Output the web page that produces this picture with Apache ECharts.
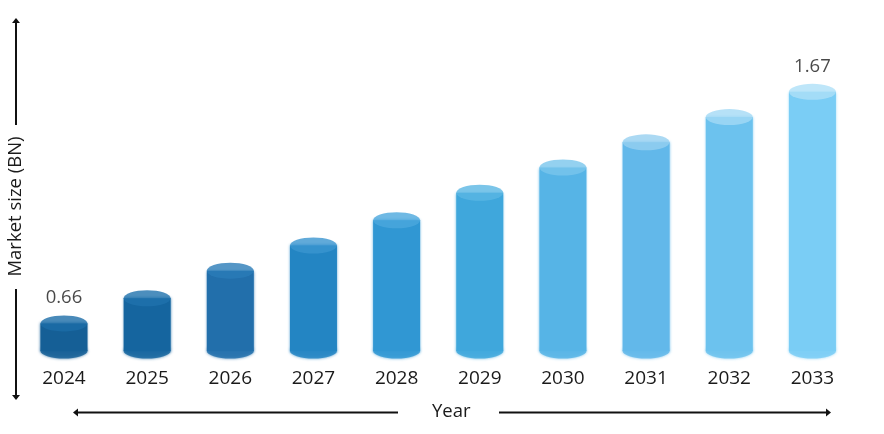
<!DOCTYPE html>
<html>
<head>
<meta charset="utf-8">
<script src="https://cdn.jsdelivr.net/npm/echarts@6/dist/echarts.min.js"></script>
<style>html,body{margin:0;padding:0;background:#fff}#c{width:884px;height:434px}</style>
</head>
<body>
<div id="c"></div>
<script>
const years = ['2024','2025','2026','2027','2028','2029','2030','2031','2032','2033'];
const marketSize = [0.66,0.77,0.89,1.00,1.11,1.23,1.34,1.45,1.56,1.67];
const labelledYears = ['2024','2033'];
const axisMin = 0.54;
const axisMax = 1.8;
const bodyColors = ['#155f96','#15659f','#226fab','#2385c3','#3097d3','#3fa7dc','#56b4e6','#62b8ea','#6cc2ee','#7acdf5'];
const capColors = ['#1c6da8','#1f72ad','#2a7cb8','#3a95d0','#4ba8dd','#5ab6e4','#79c6ec','#96d0f0','#a4daf5','#aee0f7'];
const fontName = '"Open Sans", sans-serif';

const chart = echarts.init(document.getElementById('c'), null, {renderer:'canvas'});
const arrowStyle = {stroke:'#111', lineWidth:2};
function arrow(x1,y1,x2,y2){
  const dx = Math.sign(x2-x1), dy = Math.sign(y2-y1);
  return [
    {type:'line', shape:{x1,y1,x2,y2}, style:arrowStyle},
    {type:'polygon', shape:{points: dx
      ? [[x2+dx*4,y2],[x2-dx*1,y2-4],[x2-dx*1,y2+4]]
      : [[x2,y2+dy*4],[x2-4,y2-dy*1],[x2+4,y2-dy*1]]}, style:{fill:'#111'}}
  ];
}
const glow = c => ({color:c, shadowBlur:3, shadowColor:c});
chart.setOption({
  animation:false,
  backgroundColor:'#fff',
  grid:{left:22.4,right:30,top:62,bottom:83,outerBoundsMode:'none',containLabel:false},
  textStyle:{fontFamily:fontName},
  xAxis:{
    type:'category', data:years,
    axisLine:{show:false}, axisTick:{show:false},
    axisLabel:{color:'#1a1a1a',fontSize:19,fontFamily:fontName,margin:18},
    name:'Year', nameLocation:'middle', nameGap:51,
    nameTextStyle:{color:'#1a1a1a',fontSize:18.5,fontFamily:fontName,padding:[0,0,0,26]}
  },
  yAxis:{
    type:'value', min:axisMin, max:axisMax,
    axisLine:{show:false}, axisTick:{show:false}, axisLabel:{show:false}, splitLine:{show:false},
    name:'Market size (BN)', nameLocation:'middle', nameGap:-3,
    nameTextStyle:{color:'#1a1a1a',fontSize:18.5,fontFamily:fontName}
  },
  series:[
    {type:'scatter', symbol:'circle', symbolSize:[47,15], clip:false, z:1,
     data:years.map((y,i)=>({value:[y,axisMin],itemStyle:glow(bodyColors[i])}))},
    {type:'bar', barWidth:47, z:2,
     data:marketSize.map((v,i)=>({value:v,itemStyle:glow(bodyColors[i])}))},
    {type:'scatter', symbol:'circle', symbolSize:[47,16], clip:false, z:3,
     data:marketSize.map((v,i)=>({
       value:[years[i],v],
       itemStyle:{color:capColors[i]},
       label:{show:labelledYears.includes(years[i]),position:'top',distance:8,
              formatter:v.toFixed(2),color:'#1a1a1a',fontSize:18.5,fontFamily:fontName}
     }))}
  ],
  graphic:{elements:[
    ...arrow(16,125,16,22),
    ...arrow(16,289,16,396),
    ...arrow(398,412.5,77,412.5),
    ...arrow(499,412.5,827,412.5)
  ]}
});
</script>
</body>
</html>
